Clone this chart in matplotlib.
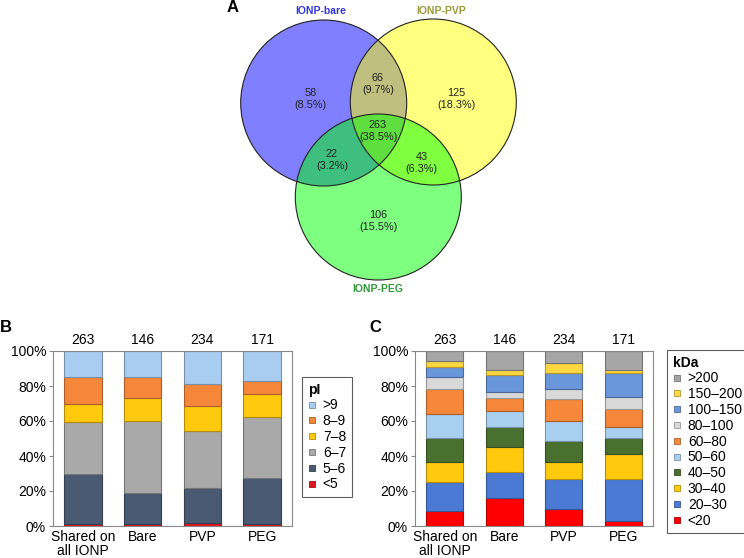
import numpy as np
import matplotlib
matplotlib.use("Agg")
import matplotlib.pyplot as plt
from matplotlib.patches import Circle
from matplotlib.lines import Line2D
from matplotlib.colors import to_rgb

plt.rcParams['font.family'] = ['Liberation Sans', 'DejaVu Sans']

# ---- data ----
groups = ["Shared on\nall IONP", "Bare", "PVP", "PEG"]
totals = [263, 146, 234, 171]

pi_labels = ["<5", "5\u20136", "6\u20137", "7\u20138", "8\u20139", ">9"]
pi_colors = ["#e0141e", "#4a5a73", "#a9a9a9", "#ffc90e", "#f5873a", "#a9cdf0"]
pi_lt5 = [1.3, 1.0, 1.9, 1.3]
pi_5_6 = [28.6, 18.0, 19.8, 25.9]
pi_6_7 = [29.3, 41.0, 32.4, 35.1]
pi_7_8 = [10.7, 13.3, 14.5, 13.3]
pi_8_9 = [15.2, 11.8, 12.5, 7.1]
pi_gt9 = [14.9, 14.9, 18.9, 17.3]

kda_labels = ["<20", "20\u201330", "30\u201340", "40\u201350", "50\u201360",
              "60\u201380", "80\u2013100", "100\u2013150", "150\u2013200", ">200"]
kda_colors = ["#ff0000", "#4a7ad4", "#ffc90e", "#4a7030", "#a9d0f0",
              "#f5883a", "#d9d9d9", "#6a96dc", "#ffd740", "#a6a6a6"]
kda_lt20 = [8.4, 16.2, 9.7, 3.0]
kda_20_30 = [16.9, 14.8, 17.0, 23.7]
kda_30_40 = [11.5, 14.3, 9.7, 14.3]
kda_40_50 = [13.7, 11.5, 12.2, 9.5]
kda_50_60 = [13.3, 8.9, 11.6, 6.3]
kda_60_80 = [14.3, 7.3, 12.2, 10.2]
kda_80_100 = [7.2, 3.8, 5.9, 6.5]
kda_100_150 = [5.7, 9.5, 9.3, 13.7]
kda_150_200 = [3.3, 2.8, 5.4, 1.9]
kda_gt200 = [5.7, 10.9, 7.0, 10.9]

venn_names = ["IONP-bare", "IONP-PVP", "IONP-PEG"]
venn_counts = [58, 125, 106, 66, 22, 43, 263]
venn_pcts = [8.5, 18.3, 15.5, 9.7, 3.2, 6.3, 38.5]

W, H = 744, 558
fig = plt.figure(figsize=(W / 100, H / 100), dpi=100)


def darker(c, f=0.7):
    r, g, b = to_rgb(c)
    return (r * f, g * f, b * f)


# ---- Venn (pixel coordinates) ----
vtop = 300
ax_v = fig.add_axes([0, 1 - vtop / H, 1, vtop / H])
ax_v.set_xlim(0, W)
ax_v.set_ylim(vtop, 0)
ax_v.axis("off")
circles = [((323.7, 103), "#0000ff"), ((433.3, 102), "#ffff00"), ((378.3, 197), "#00ff00")]
for (cx, cy), col in circles:
    ax_v.add_patch(Circle((cx, cy), 83, facecolor=col, alpha=0.5, edgecolor="none"))
for (cx, cy), col in circles:
    ax_v.add_patch(Circle((cx, cy), 83, facecolor="none", edgecolor="#222222", lw=0.8))

label_pos = [(310.7, 99), (456, 99), (378, 221), (378, 84), (332, 160), (421.7, 163), (378, 131)]
for (x, y), n, p in zip(label_pos, venn_counts, venn_pcts):
    ax_v.text(x, y, f"{n}\n({p}%)", ha="center", va="center", fontsize=7.8,
              color="#222222", linespacing=1.15)

ax_v.text(320.7, 11, venn_names[0], ha="center", va="center", fontsize=7.5,
          fontweight="bold", color="#3535e0")
ax_v.text(440.7, 11, venn_names[1], ha="center", va="center", fontsize=7.5,
          fontweight="bold", color="#9a9a3a")
ax_v.text(378, 289, venn_names[2], ha="center", va="center", fontsize=7.5,
          fontweight="bold", color="#2f9a3a")
ax_v.text(233, 8, "A", ha="center", va="center", fontsize=12, fontweight="bold")


# ---- stacked bars ----
def stacked(ax, series, colors):
    x = np.arange(len(groups))
    bottom = np.zeros(len(groups))
    for vals, col in zip(series, colors):
        ax.bar(x, vals, 0.63, bottom=bottom, color=col, edgecolor=darker(col),
               linewidth=0.8)
        bottom += np.array(vals)
    ax.set_xlim(-0.5, len(groups) - 0.5)
    ax.set_ylim(0, 100)
    ax.set_yticks(range(0, 101, 20))
    ax.set_yticklabels([f"{v}%" for v in range(0, 101, 20)], fontsize=10)
    ax.set_xticks(x)
    ax.set_xticklabels(groups, fontsize=10, linespacing=0.95)
    ax.tick_params(axis="x", length=0, pad=3)
    ax.tick_params(axis="y", length=3, color="#888888", pad=2)
    for s in ax.spines.values():
        s.set_color("#888888")
        s.set_linewidth(0.8)
    for xi, t in zip(x, totals):
        ax.text(xi, 102.5, str(t), ha="center", va="bottom", fontsize=10)


def legend(ax, labels, colors, title, anchor):
    handles = [Line2D([], [], marker="s", ls="", markersize=5, markerfacecolor=c,
                      markeredgecolor=darker(c), markeredgewidth=0.6) for c in colors]
    leg = ax.legend(handles[::-1], labels[::-1], title=title, loc="upper left",
                    bbox_to_anchor=anchor, bbox_transform=fig.transFigure,
                    fontsize=10, title_fontproperties={"weight": "bold", "size": 10},
                    alignment="left", frameon=True, fancybox=False, edgecolor="#333333",
                    handlelength=0.7, handletextpad=0.4, labelspacing=0.13,
                    borderpad=0.4, borderaxespad=0)
    leg.get_frame().set_linewidth(0.8)


ax_b = fig.add_axes([53 / W, 1 - 526 / H, 239 / W, 175 / H])
stacked(ax_b, [pi_lt5, pi_5_6, pi_6_7, pi_7_8, pi_8_9, pi_gt9], pi_colors)
legend(ax_b, pi_labels, pi_colors, "pI", (302 / W, 1 - 377 / H))

ax_c = fig.add_axes([415 / W, 1 - 526 / H, 238 / W, 175 / H])
stacked(ax_c, [kda_lt20, kda_20_30, kda_30_40, kda_40_50, kda_50_60, kda_60_80,
               kda_80_100, kda_100_150, kda_150_200, kda_gt200], kda_colors)
legend(ax_c, kda_labels, kda_colors, "kDa", (667 / W, 1 - 350 / H))

fig.text(6 / W, 1 - 327 / H, "B", ha="center", va="center", fontsize=12, fontweight="bold")
fig.text(375 / W, 1 - 327 / H, "C", ha="center", va="center", fontsize=12, fontweight="bold")

fig.savefig("out.png", dpi=100)
